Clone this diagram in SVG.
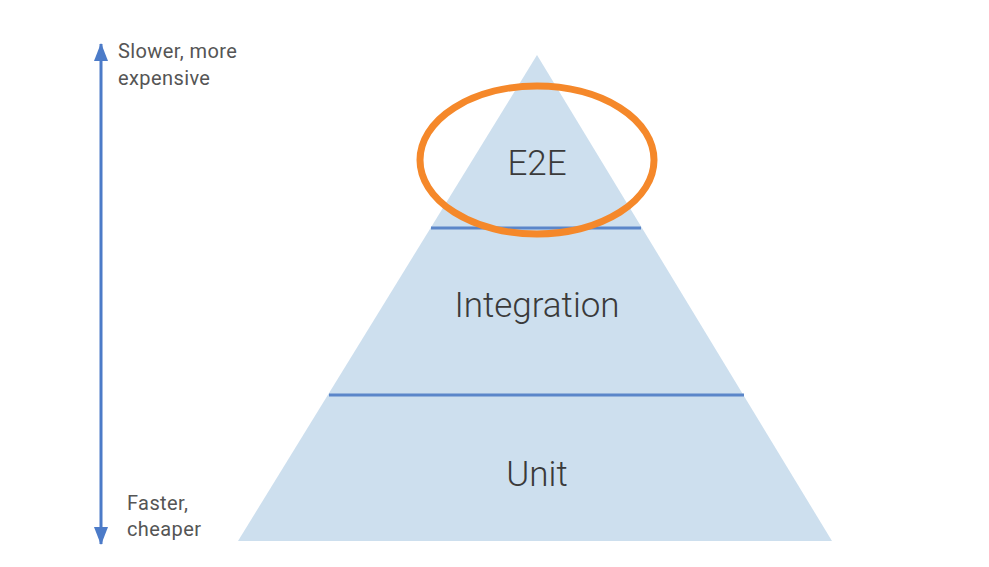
<svg xmlns="http://www.w3.org/2000/svg" width="989" height="567" viewBox="0 0 989 567">
<style>
.lbl{font-family:Roboto,"Liberation Sans",sans-serif;fill:#3a3a3a;font-size:35px;font-weight:300;text-anchor:middle}
.side{font-family:Roboto,"Liberation Sans",sans-serif;fill:#555;font-size:20px;letter-spacing:0.4px}
.div{stroke:#5b86c9;stroke-width:3}
</style>
<defs>
<marker id="ah" viewBox="0 0 18 14" refX="17" refY="7" markerWidth="18" markerHeight="14" orient="auto-start-reverse" markerUnits="userSpaceOnUse">
<path d="M0,0 L18,7 L0,14 z" fill="#4c7bc8"/>
</marker>
</defs>
<rect width="989" height="567" fill="#fff"/>
<g id="pyramid">
<polygon points="537,55 238,541 832,541" fill="#cddfee"/>
<line class="div" x1="431" y1="228" x2="641" y2="228"/>
<line class="div" x1="329" y1="395" x2="744" y2="395"/>
</g>
<g id="e2e"><text class="lbl" x="537" y="175">E2E</text></g>
<g id="integration"><text class="lbl" x="537" y="317">Integration</text></g>
<g id="unit"><text class="lbl" x="537" y="486">Unit</text></g>
<g id="highlight"><ellipse cx="537" cy="160" rx="117" ry="74" fill="none" stroke="#f5882a" stroke-width="7"/></g>
<g id="connectors">
<line x1="101" y1="44" x2="101" y2="544" stroke="#4c7bc8" stroke-width="3" marker-start="url(#ah)" marker-end="url(#ah)"/>
</g>
<g id="slow"><text class="side" x="118" y="58">Slower, more</text><text class="side" x="118" y="85">expensive</text></g>
<g id="fast"><text class="side" x="127" y="510">Faster,</text><text class="side" x="127" y="536">cheaper</text></g>
</svg>
